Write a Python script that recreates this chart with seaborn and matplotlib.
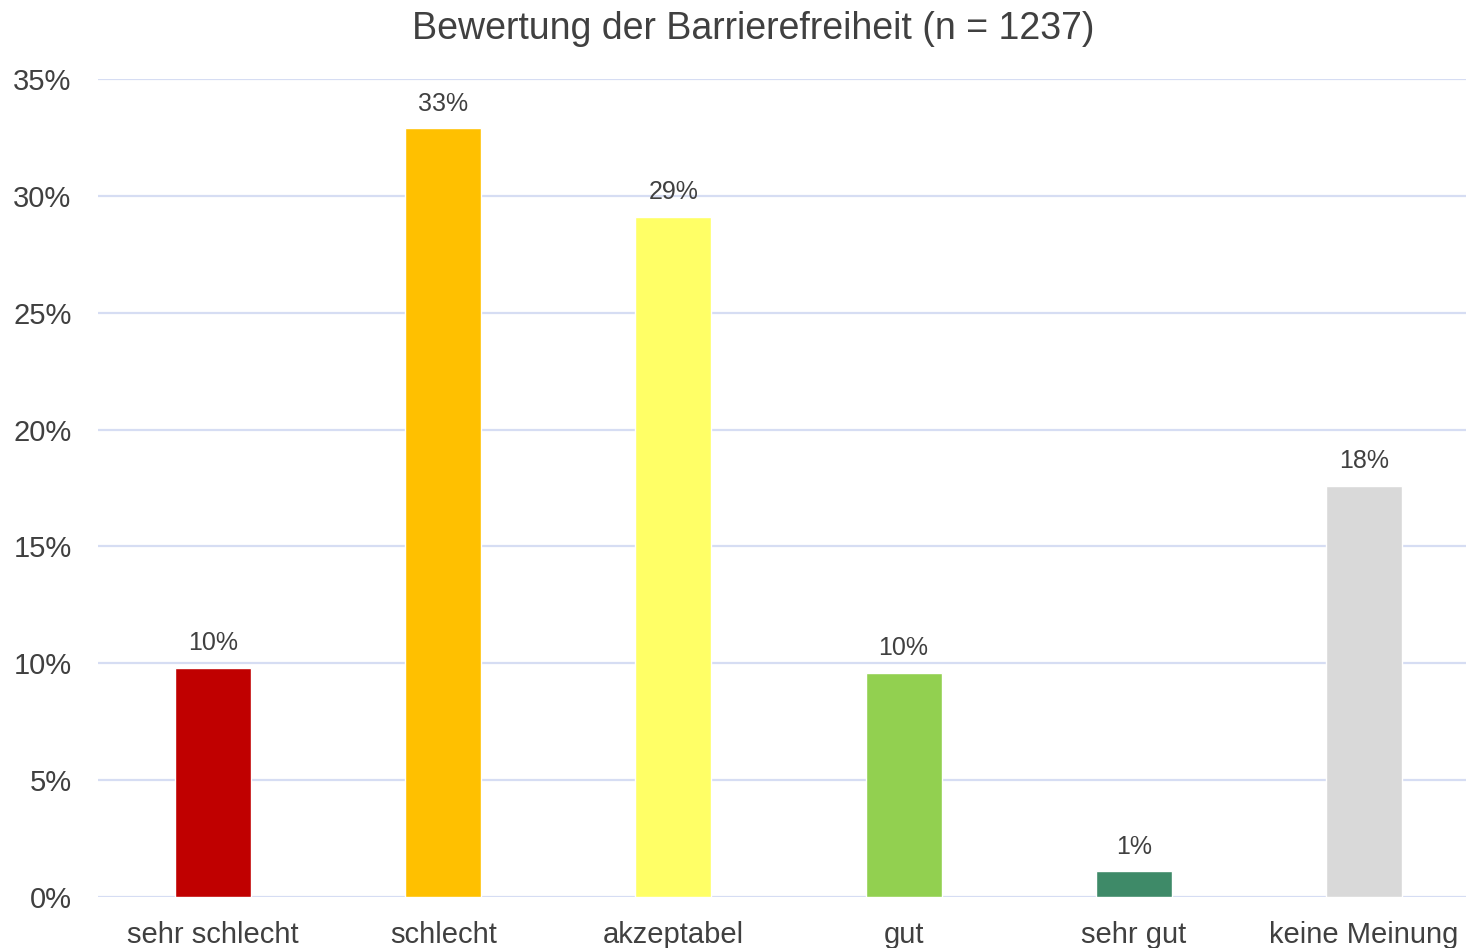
import matplotlib
matplotlib.use("Agg")
import matplotlib.pyplot as plt
import seaborn as sns
import pandas as pd

categories = ['sehr schlecht', 'schlecht', 'akzeptabel', 'gut', 'sehr gut', 'keine Meinung']
values = [9.8, 32.9, 29.1, 9.6, 1.1, 17.6]
colors = ['#C00000', '#FFC000', '#FFFF66', '#92D050', '#3E8A68', '#D9D9D9']
title = 'Bewertung der Barrierefreiheit (n = 1237)'

df = pd.DataFrame({'kategorie': categories, 'anteil': values})

sns.set_style('white')
plt.rcParams['font.family'] = ['Liberation Sans', 'DejaVu Sans']

fig = plt.figure(figsize=(14.66, 9.48), dpi=100)
# axes reaches past the right edge like in the original screenshot
ax = fig.add_axes([98 / 1466, 51 / 948, 1381 / 1466, 818 / 948])

sns.barplot(data=df, x='kategorie', y='anteil', hue='kategorie',
            palette=colors, legend=False, width=0.33, saturation=1, ax=ax)

ax.set_ylim(0, 35)
ax.set_xlim(-0.5, 5.5)
ax.set_yticks(range(0, 36, 5))
ax.set_yticklabels([f'{t}%' for t in range(0, 36, 5)])
ax.yaxis.grid(True, color='#D6DDF3', linewidth=1.6)
ax.set_axisbelow(True)
for s in ax.spines.values():
    s.set_visible(False)
ax.set_xlabel('')
ax.set_ylabel('')
ax.tick_params(axis='y', length=0, pad=19, labelsize=21, labelcolor='#404040')
ax.tick_params(axis='x', length=0, pad=17, labelsize=21, labelcolor='#404040')

for i, v in enumerate(values):
    ax.annotate(f'{v:.0f}%', (i, v), xytext=(0, 9), textcoords='offset points',
                ha='center', va='bottom', fontsize=18, color='#404040')

fig.text(753 / 1466, 1 - 29 / 948, title, ha='center', va='center',
         fontsize=27, color='#404040')

fig.savefig('out.png', dpi=100)
